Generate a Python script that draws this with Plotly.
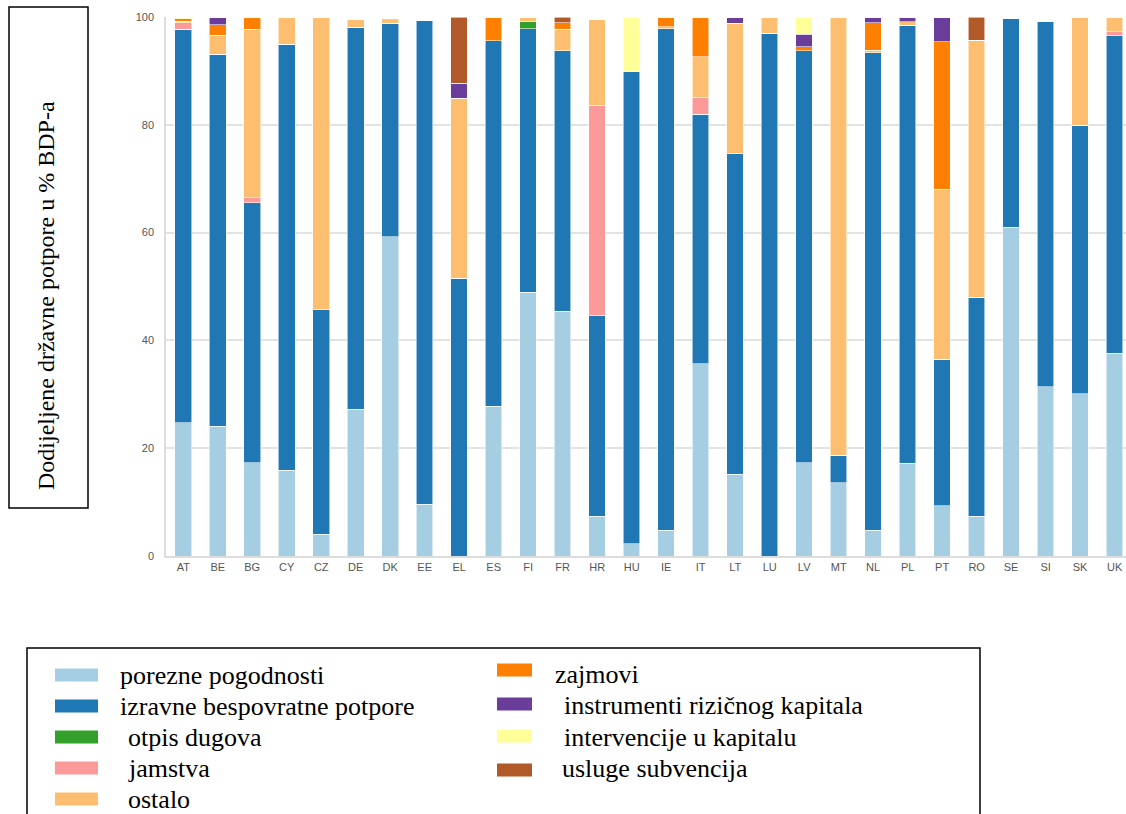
import plotly.graph_objects as go

countries = ["AT", "BE", "BG", "CY", "CZ", "DE", "DK", "EE", "EL", "ES", "FI", "FR", "HR", "HU",
             "IE", "IT", "LT", "LU", "LV", "MT", "NL", "PL", "PT", "RO", "SE", "SI", "SK", "UK"]

porezne_pogodnosti = [24.7, 24.1, 17.3, 15.9, 4.0, 27.2, 59.2, 9.6, 0.0, 27.8, 48.9, 45.4, 7.4, 2.3,
                      4.8, 35.7, 15.2, 0.0, 17.3, 13.6, 4.8, 17.2, 9.3, 7.4, 61.0, 31.4, 30.1, 37.6]
izravne_potpore = [73.0, 69.0, 48.2, 79.0, 41.7, 70.9, 39.6, 89.7, 51.5, 67.8, 48.9, 48.3, 37.2, 87.6,
                   93.0, 46.3, 59.4, 97.0, 76.4, 5.1, 88.6, 81.3, 27.2, 40.6, 38.8, 67.7, 49.8, 58.9]
otpis_dugova = [0, 0, 0, 0, 0, 0, 0, 0, 0, 0, 1.3, 0, 0, 0,
                0, 0, 0, 0, 0, 0, 0, 0, 0, 0, 0, 0, 0, 0]
jamstva = [1.2, 0, 1.0, 0, 0, 0, 0, 0, 0, 0, 0, 0, 39.0, 0,
           0, 3.1, 0, 0, 0, 0, 0, 0, 0, 0, 0, 0, 0, 0.8]
ostalo = [0.3, 3.5, 31.2, 5.1, 54.3, 1.4, 0.7, 0, 33.4, 0, 0.9, 4.0, 16.0, 0,
          0.4, 7.5, 24.2, 3.0, 0, 81.3, 0.4, 0.6, 31.5, 47.7, 0, 0, 20.1, 2.7]
zajmovi = [0.5, 2.0, 2.3, 0, 0, 0, 0.3, 0, 0, 4.4, 0, 1.2, 0, 0,
           1.8, 7.4, 0, 0, 0.8, 0, 5.1, 0, 27.4, 0, 0, 0, 0, 0]
instrumenti_rizicnog_kapitala = [0, 1.4, 0, 0, 0, 0, 0, 0, 2.8, 0, 0, 0, 0, 0,
                                 0, 0, 1.2, 0, 2.3, 0, 1.1, 0.9, 4.6, 0, 0, 0, 0, 0]
intervencije_u_kapitalu = [0.3, 0, 0, 0, 0, 0, 0, 0, 0, 0, 0, 0, 0, 10.1,
                           0, 0, 0, 0, 3.2, 0, 0, 0, 0, 0, 0, 0, 0, 0]
usluge_subvencija = [0, 0, 0, 0, 0, 0, 0, 0, 12.3, 0, 0, 1.1, 0, 0,
                     0, 0, 0, 0, 0, 0, 0, 0, 0, 4.3, 0, 0, 0, 0]

series_names = ["porezne pogodnosti", "izravne bespovratne potpore", "otpis dugova", "jamstva", "ostalo",
                "zajmovi", "instrumenti rizičnog kapitala", "intervencije u kapitalu", "usluge subvencija"]
series_values = [porezne_pogodnosti, izravne_potpore, otpis_dugova, jamstva, ostalo,
                 zajmovi, instrumenti_rizicnog_kapitala, intervencije_u_kapitalu, usluge_subvencija]
series_colors = ["#a6cee3", "#1f78b4", "#33a02c", "#fb9a99", "#fdbf6f",
                 "#ff7f00", "#6a3d9a", "#ffff99", "#b15928"]

y_title = "Dodijeljene državne potpore u % BDP-a"
y_ticks = [0, 20, 40, 60, 80, 100]

W, H = 1126, 814
L, R, T, B = 166, 0, 17, 258
PW, PH = W - L - R, H - T - B


def px(x):
    return (x - L) / PW


def py(y):
    return (H - B - y) / PH


fig = go.Figure()
for name, vals, col in zip(series_names, series_values, series_colors):
    fig.add_trace(go.Bar(
        x=countries, y=vals, name=name, width=0.48,
        marker=dict(color=col, line=dict(color="rgba(255,255,255,0.7)", width=0.8)),
        showlegend=False,
    ))

fig.update_layout(
    width=W, height=H, barmode="stack",
    margin=dict(l=L, r=R, t=T, b=B),
    paper_bgcolor="white", plot_bgcolor="white",
    font=dict(family="Liberation Sans, Arial, sans-serif", color="#555555", size=11),
    xaxis=dict(range=[-0.5, 27.33], showgrid=False, showline=True, linecolor="#dddddd",
               linewidth=1.5, ticks="", tickfont=dict(size=11, color="#555555")),
    yaxis=dict(range=[0, 100], tickvals=y_ticks, showgrid=True, gridcolor="#e3e3e3",
               gridwidth=1.5, showline=True, linecolor="#dddddd", linewidth=1.5,
               ticks="", ticklabelstandoff=8, zeroline=False,
               tickfont=dict(size=11, color="#555555")),
    showlegend=False,
)

serif = "Liberation Serif, Times New Roman, serif"
shapes = []
annotations = []

# y-axis title box
shapes.append(dict(type="rect", xref="paper", yref="paper",
                   x0=px(9), x1=px(88), y0=py(508), y1=py(7),
                   line=dict(color="black", width=1.5)))
annotations.append(dict(text=y_title, xref="paper", yref="paper", x=px(46), y=py(296),
                        textangle=-90, showarrow=False, xanchor="center", yanchor="middle",
                        font=dict(family=serif, size=24, color="black")))

# legend box
shapes.append(dict(type="rect", xref="paper", yref="paper",
                   x0=px(27), x1=px(980), y0=py(818), y1=py(648),
                   line=dict(color="black", width=1.5)))

col1_rows = [675, 706, 737, 768, 799]
col2_rows = [670, 704, 736, 770]
col2_text_rows = [674, 705, 737, 768]
text_x1 = [118, 118, 126, 126, 126]
text_x2 = [553, 562, 562, 560]
for i, (name, col) in enumerate(zip(series_names, series_colors)):
    if i < 5:
        sx0, sx1, cy, tx, ty = 55, 98, col1_rows[i], text_x1[i], col1_rows[i]
    else:
        j = i - 5
        sx0, sx1, cy, tx, ty = 497, 532, col2_rows[j], text_x2[j], col2_text_rows[j]
    shapes.append(dict(type="rect", xref="paper", yref="paper",
                       x0=px(sx0), x1=px(sx1), y0=py(cy + 6.5), y1=py(cy - 6.5),
                       fillcolor=col, line=dict(width=0)))
    annotations.append(dict(text=name, xref="paper", yref="paper", x=px(tx), y=py(ty),
                            showarrow=False, xanchor="left", yanchor="middle",
                            font=dict(family=serif, size=26, color="black")))

fig.update_layout(shapes=shapes, annotations=annotations)
fig.write_html("out.html", config={"displayModeBar": False},
               post_script="document.body.style.margin='0';document.body.style.overflow='hidden';")
